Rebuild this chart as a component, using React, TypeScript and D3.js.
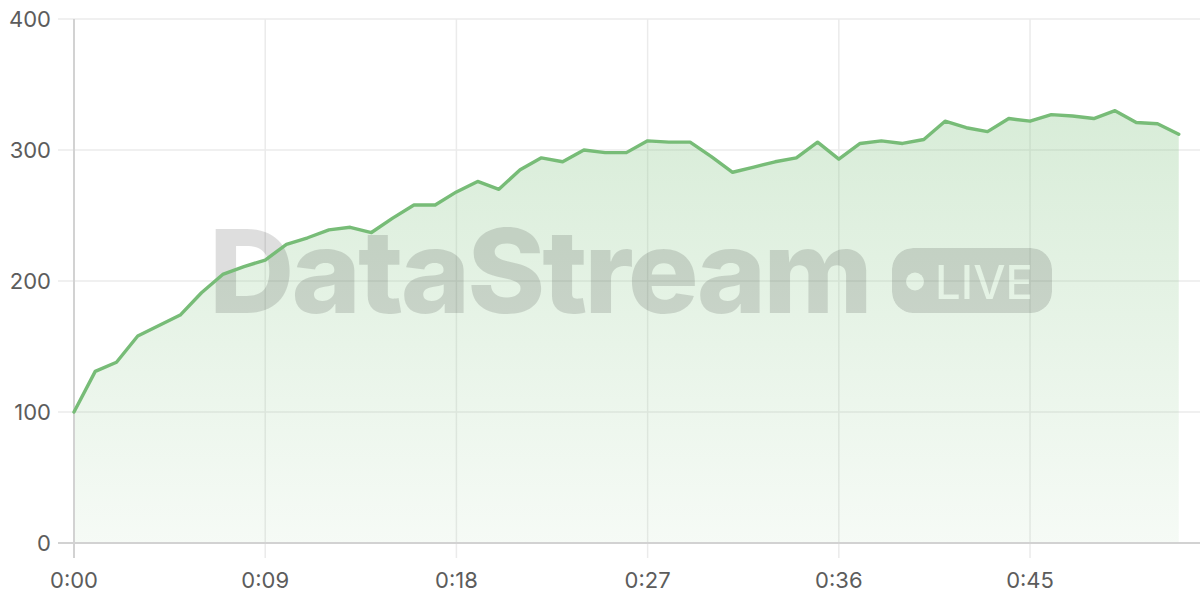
import { useEffect } from "react";
import * as d3 from "d3";

// Values, one per second from 0:00 to 0:52
const SECONDS = d3.range(0, 53);
const VALUES = [
  100, 131, 138, 158, 166, 174, 191, 205, 211, 216,
  228, 233, 239, 241, 237, 248, 258, 258, 268, 276,
  270, 285, 294, 291, 300, 298, 298, 307, 306, 306,
  295, 283, 287, 291, 294, 306, 293, 305, 307, 305,
  308, 322, 317, 314, 324, 322, 327, 326, 324, 330,
  321, 320, 312,
];
const X_TICKS = [0, 9, 18, 27, 36, 45];
const Y_TICKS = [0, 100, 200, 300, 400];

const W = 1200;
const H = 600;
const MARGIN = { top: 19, right: 0, bottom: 57, left: 74 };
const FONT = "Inter, 'Noto Sans', sans-serif";
const LINE = "#77bc77";

const fmtTime = (s: number) => `${Math.floor(s / 60)}:${String(s % 60).padStart(2, "0")}`;

export default function App() {
  useEffect(() => {
    document.body.style.margin = "0";
  }, []);

  const x = d3.scaleLinear().domain([0, 53]).range([MARGIN.left, W - MARGIN.right]);
  const y = d3.scaleLinear().domain([0, 400]).range([H - MARGIN.bottom, MARGIN.top]);

  const pts = SECONDS.map((s, i) => ({ s, v: VALUES[i] }));
  const line = d3.line<{ s: number; v: number }>().x((d) => x(d.s)).y((d) => y(d.v));
  const area = d3
    .area<{ s: number; v: number }>()
    .x((d) => x(d.s))
    .y0(y(0))
    .y1((d) => y(d.v));

  const y0 = y(0);
  const yTop = y(400);

  return (
    <svg width={W} height={H} style={{ display: "block" }}>
      <defs>
        <linearGradient id="areaGrad" x1={0} y1={y(330)} x2={0} y2={y0} gradientUnits="userSpaceOnUse">
          <stop offset="0" stopColor="#8cc88c" stopOpacity={0.34} />
          <stop offset="1" stopColor="#8cc88c" stopOpacity={0.08} />
        </linearGradient>
        {/* knock the dot and LIVE out of the badge */}
        <mask id="liveMask">
          <rect x={892} y={248} width={160} height={65} rx={21} fill="white" />
          <circle cx={915} cy={281.5} r={9} fill="black" />
          <text x={935} y={298.5} fontSize={47} fontWeight={500}
            fontFamily={FONT} fill="black" textLength={98} lengthAdjust="spacingAndGlyphs">
            LIVE
          </text>
        </mask>
      </defs>

      {/* horizontal grid */}
      {Y_TICKS.filter((t) => t > 0).map((t) => (
        <line key={`gy${t}`} x1={58} x2={W} y1={y(t)} y2={y(t)} stroke="#ebebeb" strokeWidth={1.5} />
      ))}
      {/* vertical grid */}
      {X_TICKS.filter((t) => t > 0).map((t) => (
        <line key={`gx${t}`} x1={x(t)} x2={x(t)} y1={yTop} y2={y0 + 15} stroke="#ebebeb" strokeWidth={1.5} />
      ))}

      {/* area */}
      <path d={area(pts) ?? ""} fill="url(#areaGrad)" />

      {/* watermark */}
      <g fill="#000" fillOpacity={0.13} pointerEvents="none">
        <text x={209} y={313} fontSize={116} fontWeight={800} fontFamily={FONT}
          textLength={661} lengthAdjust="spacingAndGlyphs" letterSpacing={-3}>
          DataStream
        </text>
        <rect x={892} y={248} width={160} height={65} rx={21} mask="url(#liveMask)" />
      </g>

      {/* axes */}
      <line x1={58} x2={W} y1={y0} y2={y0} stroke="#d2d2d2" strokeWidth={2} />
      <line x1={x(0)} x2={x(0)} y1={yTop} y2={y0 + 15} stroke="#d2d2d2" strokeWidth={2} />

      {/* line */}
      <path d={line(pts) ?? ""} fill="none" stroke={LINE} strokeWidth={3.4}
        strokeLinejoin="round" strokeLinecap="round" />

      {/* y labels */}
      {Y_TICKS.map((t) => (
        <text key={`ly${t}`} x={51} y={y(t)} dy="0.36em" textAnchor="end"
          fontSize={22} fontFamily={FONT} fill="#5c5c5c">
          {t}
        </text>
      ))}
      {/* x labels */}
      {X_TICKS.map((t) => (
        <text key={`lx${t}`} x={x(t)} y={580} dy="0.36em" textAnchor="middle"
          fontSize={22} fontFamily={FONT} fill="#5c5c5c">
          {fmtTime(t)}
        </text>
      ))}
    </svg>
  );
}
